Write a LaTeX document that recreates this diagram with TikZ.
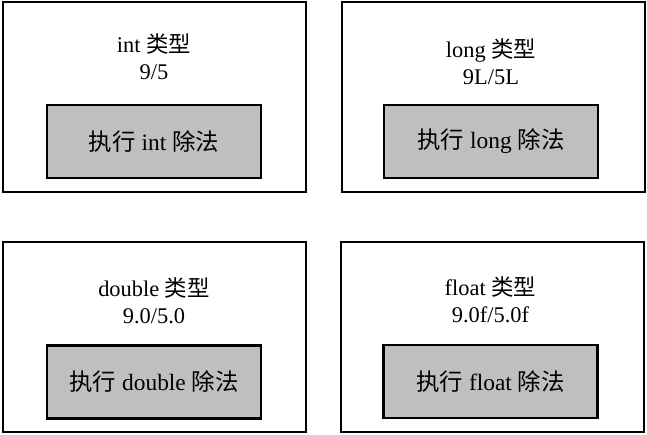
\documentclass[tikz,border=0pt]{standalone}
\usepackage{fontspec}
\setmainfont{Liberation Serif}
\newfontfamily\cjk{Noto Sans CJK SC}
\newcommand{\zh}[1]{{\cjk #1}}
\definecolor{boxgray}{gray}{0.75}
\usetikzlibrary{positioning}
\tikzset{
  typebox/.style={draw, line width=2.8bp, minimum width=303bp, minimum height=190bp, inner sep=0pt},
  execbox/.style={draw, line width=2.8bp, fill=boxgray, minimum width=214bp, minimum height=73bp, inner sep=0pt, font=\fontsize{23.5}{27}\selectfont},
  typelabel/.style={align=center, inner sep=0pt, font=\fontsize{22.5}{27}\selectfont}
}

\begin{document}
\begin{tikzpicture}[x=1bp, y=1bp]
\useasboundingbox (0,0) rectangle (647,435);
%int
\node[typebox] (intbox) at (154.5,338) {};
\node[execbox] (intexec) at (154,293.5) {\zh{执行} int \zh{除法}};
\node[typelabel] (intlabel) at (154,378) {int \zh{类型}\\9/5};
%long
\node[typebox] (longbox) at (493.5,338) {};
\node[execbox] (longexec) at (491,293.5) {\zh{执行} long \zh{除法}};
\node[typelabel] (longlabel) at (491,373.5) {long \zh{类型}\\9L/5L};
%double
\node[typebox] (doublebox) at (154.5,98) {};
\node[execbox] (doubleexec) at (154,53) {\zh{执行} double \zh{除法}};
\node[typelabel] (doublelabel) at (154,134.5) {double \zh{类型}\\9.0/5.0};
%float
\node[typebox] (floatbox) at (492.5,98) {};
\node[execbox] (floatexec) at (490.5,53.5) {\zh{执行} float \zh{除法}};
\node[typelabel] (floatlabel) at (490.5,135.5) {float \zh{类型}\\9.0f/5.0f};
\end{tikzpicture}
\end{document}
